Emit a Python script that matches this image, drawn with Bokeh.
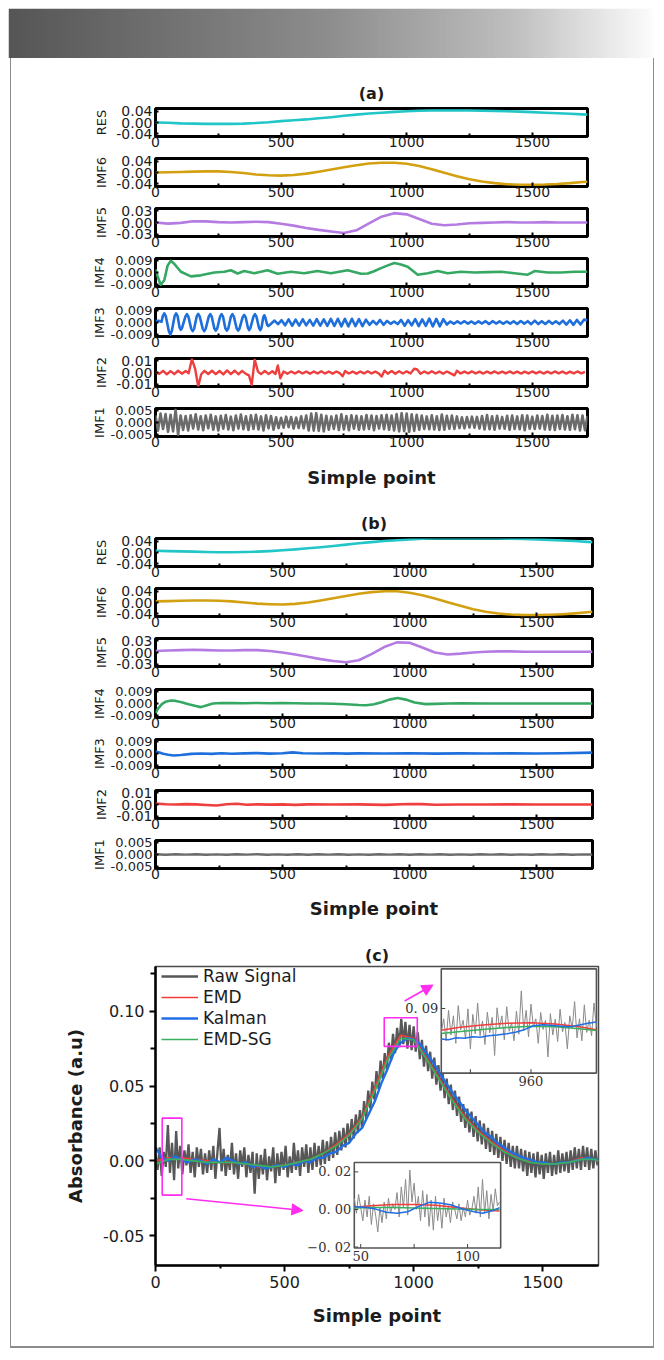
import numpy as np
from bokeh.plotting import figure
from bokeh.models import (Range1d, FixedTicker, PrintfTickFormatter, Arrow,
                          NormalHead, Legend, LegendItem, Spacer)
from bokeh.layouts import column, row
from bokeh.embed import file_html
from bokeh.resources import INLINE
from bokeh.core.properties import value

SANS = "DejaVu Sans"
SERIF = "DejaVu Serif"
INK = "#1c1c1c"

# ============================ DATA ============================
x_coarse = list(range(0, 1701, 50)) + [1720]

# ---- panel (a): EMD of raw signal
res_a = [0.000, -0.001, -0.003, -0.004, -0.005, -0.005, -0.005, -0.004, -0.002, 0.001,
         0.005, 0.008, 0.011, 0.015, 0.019, 0.024, 0.028, 0.032, 0.035, 0.038,
         0.040, 0.042, 0.043, 0.043, 0.043, 0.043, 0.042, 0.041, 0.040, 0.039,
         0.037, 0.035, 0.033, 0.031, 0.029, 0.028]
imf6_a = [0.000, 0.001, 0.002, 0.003, 0.004, 0.004, 0.002, -0.002, -0.007, -0.010,
          -0.011, -0.009, -0.004, 0.003, 0.011, 0.019, 0.026, 0.032, 0.035, 0.035,
          0.031, 0.023, 0.012, -0.001, -0.013, -0.024, -0.032, -0.038, -0.042, -0.044,
          -0.044, -0.043, -0.041, -0.038, -0.034, -0.033]
imf5_a = [0.000, -0.003, -0.001, 0.003, 0.003, 0.001, 0.000, 0.001, 0.002, 0.001,
          -0.003, -0.008, -0.014, -0.019, -0.023, -0.027, -0.020, -0.002, 0.015, 0.024,
          0.021, 0.009, -0.003, -0.007, -0.005, -0.002, -0.001, 0.000, 0.001, 0.000,
          0.000, 0.001, 0.000, 0.000, 0.000, 0.000]
imf4_a_x = [0, 11, 21, 35, 48, 61, 74, 101, 141, 180,
            234, 274, 300, 327, 353, 393, 446, 486, 539, 592,
            645, 698, 765, 818, 845, 870, 898, 925, 951, 977,
            1004, 1044, 1084, 1124, 1163, 1216, 1270, 1323, 1376, 1429,
            1482, 1509, 1562, 1615, 1668, 1720]
imf4_a = [0.0025, -0.0045, -0.0095, -0.0060, 0.0053, 0.0090, 0.0068, 0.0006, -0.0030, -0.0022,
          0.0000, 0.0006, 0.0017, -0.0008, 0.0011, -0.0006, 0.0017, -0.0010, 0.0006, -0.0006,
          0.0011, -0.0006, 0.0017, -0.0010, -0.0008, 0.0010, 0.0034, 0.0055, 0.0073, 0.0062,
          0.0045, -0.0017, -0.0006, 0.0011, -0.0006, 0.0006, 0.0000, 0.0003, 0.0006, -0.0006,
          -0.0017, 0.0011, 0.0000, 0.0000, 0.0006, 0.0006]
imf3_a_head_x = [0, 12, 24, 29, 35, 41, 53, 59, 65, 76, 82, 88, 96, 101, 106,
                 119, 125, 131, 142, 148, 154, 164, 170, 176, 188, 194, 200,
                 212, 218, 224, 234, 240, 246, 257, 263, 269, 278, 284, 290,
                 300, 306, 312, 323, 329, 335, 347, 353, 359, 368, 373, 378,
                 390, 396, 402, 412, 417, 422, 429, 433, 437, 445, 449]
imf3_a_head = [0.0012, 0.0014, 0.0006, 0.0049, 0.0070, 0.0049, -0.0066, -0.0093, -0.0066,
               0.0049, 0.0070, 0.0049, -0.0040, -0.0056, -0.0040,
               0.0045, 0.0064, 0.0045, -0.0047, -0.0066, -0.0047, 0.0047, 0.0066, 0.0047,
               -0.0047, -0.0066, -0.0047, 0.0045, 0.0064, 0.0045, -0.0044, -0.0062, -0.0044,
               0.0045, 0.0064, 0.0045, -0.0044, -0.0062, -0.0044, 0.0045, 0.0064, 0.0045,
               -0.0044, -0.0062, -0.0044, 0.0041, 0.0058, 0.0041, -0.0041, -0.0058, -0.0041,
               0.0045, 0.0064, 0.0045, -0.0041, -0.0058, -0.0041, 0.0040, 0.0056, 0.0040,
               -0.0020, -0.0028]
imf3_a_tail = [-0.0010, 0.0015, -0.0012, 0.0018, -0.0022, 0.0024, -0.0025, 0.0022, -0.0024, 0.0025,
               -0.0022, 0.0020, -0.0024, 0.0026, -0.0025, 0.0024, -0.0026, 0.0028, -0.0027, 0.0029,
               -0.0030, 0.0028, -0.0030, 0.0029, -0.0028, 0.0026, -0.0028, 0.0022, -0.0018, 0.0012,
               -0.0015, 0.0020, -0.0018, 0.0012, -0.0010, 0.0008, -0.0012, 0.0020, -0.0025, 0.0018,
               -0.0022, 0.0026, -0.0028, 0.0024, -0.0026, 0.0030, -0.0030, 0.0028, -0.0030, 0.0026,
               -0.0016, 0.0008, -0.0010, 0.0009, -0.0008, 0.0010, -0.0009, 0.0008, -0.0010, 0.0009,
               -0.0008, 0.0010, -0.0012, 0.0010, -0.0008, 0.0009, -0.0010, 0.0008, -0.0009, 0.0010,
               -0.0012, 0.0011, -0.0009, 0.0010, -0.0013, 0.0014, -0.0012, 0.0010, -0.0011, 0.0012,
               -0.0010, 0.0009, -0.0012, 0.0014, -0.0016, 0.0017, -0.0018, 0.0020, -0.0016, 0.0022,
               0.0018]
imf3_a_hx, imf3_a_hy = (imf3_a_head_x[:min(len(imf3_a_head_x), len(imf3_a_head))],
                        imf3_a_head[:min(len(imf3_a_head_x), len(imf3_a_head))])
imf3_a_x = imf3_a_hx + [460 + 14 * k for k in range(len(imf3_a_tail))]
imf3_a = imf3_a_hy + imf3_a_tail
imf2_a_head_x = [0, 15, 30, 45, 60, 75, 90, 105, 120, 132,
                 145, 158, 170, 182, 195, 210, 225, 240, 255, 270,
                 285, 300, 315, 330, 345, 360, 372, 383, 395, 408,
                 420, 435, 450, 465, 478, 487, 497, 510, 525, 540,
                 555, 570, 585, 600, 615, 630, 645, 660, 675, 690,
                 705, 720, 735, 745, 755, 770, 785, 800, 815, 830,
                 845, 860, 875, 890, 900, 912, 925, 940, 955, 970,
                 985, 1000, 1015, 1030, 1042, 1055, 1070, 1085, 1100, 1115,
                 1130, 1145, 1160, 1175, 1190, 1200, 1215]
imf2_a_head = [0.0003, -0.0012, 0.0014, -0.0015, 0.0012, -0.0014, 0.0015, -0.0010, 0.0013, -0.0006,
               0.0115, 0.0030, -0.0120, -0.0015, 0.0014, -0.0013, 0.0016, -0.0014, 0.0013, -0.0016,
               0.0018, -0.0014, 0.0016, -0.0015, 0.0014, -0.0012, -0.0025, -0.0105, 0.0110, 0.0008,
               -0.0014, 0.0013, -0.0012, 0.0011, -0.0013, 0.0060, -0.0050, 0.0008, -0.0010, 0.0009,
               -0.0008, 0.0010, -0.0009, 0.0008, -0.0010, 0.0009, -0.0008, 0.0010, -0.0009, 0.0008,
               -0.0010, 0.0009, -0.0008, -0.0032, 0.0012, -0.0009, 0.0008, -0.0010, 0.0009, -0.0008,
               0.0010, -0.0009, 0.0008, -0.0010, -0.0035, 0.0016, -0.0010, 0.0012, -0.0011, 0.0010,
               -0.0009, 0.0010, -0.0008, 0.0032, 0.0026, -0.0010, 0.0009, -0.0008, 0.0010, -0.0009,
               0.0008, -0.0010, 0.0009, -0.0008, -0.0024, 0.0014, -0.0008]
imf2_a_tail = [0.0008, -0.0007, 0.0009, -0.0008, 0.0007, -0.0009, 0.0008, -0.0007, 0.0009, -0.0008,
               0.0007, -0.0008, 0.0009, -0.0007, 0.0008, -0.0009, 0.0007, -0.0008, 0.0009, -0.0007,
               0.0008, -0.0009, 0.0007, -0.0008, 0.0009, -0.0007, 0.0008, -0.0009, 0.0007, -0.0008,
               0.0009, -0.0007, 0.0005]
imf2_a_x = imf2_a_head_x + [1230 + 15 * k for k in range(len(imf2_a_tail))]
imf2_a = imf2_a_head + imf2_a_tail
imf1_a = [0.0030, -0.0035, 0.0038, -0.0028, 0.0036, -0.0040, 0.0033, -0.0038, 0.0055, -0.0052,
          0.0030, -0.0032, 0.0028, -0.0034, 0.0031, -0.0026, 0.0035, -0.0030, 0.0027, -0.0033,
          0.0030, -0.0025, 0.0033, -0.0031, 0.0026, -0.0034, 0.0029, -0.0027, 0.0032, -0.0030,
          0.0025, -0.0033, 0.0030, -0.0026, 0.0034, -0.0029, 0.0027, -0.0032, 0.0031, -0.0028,
          0.0033, -0.0030, 0.0026, -0.0034, 0.0031, -0.0025, 0.0028, -0.0031, 0.0022, -0.0024,
          0.0020, -0.0022, 0.0025, -0.0020, 0.0023, -0.0026, 0.0021, -0.0023, 0.0027, -0.0025,
          0.0030, -0.0034, 0.0038, -0.0035, 0.0040, -0.0036, 0.0033, -0.0038, 0.0029, -0.0031,
          0.0026, -0.0028, 0.0030, -0.0032, 0.0035, -0.0030, 0.0028, -0.0033, 0.0031, -0.0027,
          0.0029, -0.0031, 0.0027, -0.0030, 0.0032, -0.0028, 0.0030, -0.0033, 0.0028, -0.0026,
          0.0031, -0.0029, 0.0033, -0.0031, 0.0030, -0.0034, 0.0036, -0.0038, 0.0040, -0.0037,
          0.0038, -0.0040, 0.0035, -0.0036, 0.0033, -0.0031, 0.0030, -0.0028, 0.0026, -0.0029,
          0.0031, -0.0030, 0.0027, -0.0032, 0.0034, -0.0031, 0.0029, -0.0027, 0.0030, -0.0028,
          0.0026, -0.0024, 0.0022, -0.0025, 0.0023, -0.0021, 0.0025, -0.0022, 0.0024, -0.0026,
          0.0028, -0.0030, 0.0032, -0.0029, 0.0027, -0.0031, 0.0029, -0.0026, 0.0024, -0.0027,
          0.0029, -0.0031, 0.0030, -0.0028, 0.0026, -0.0029, 0.0031, -0.0033, 0.0030, -0.0027,
          0.0025, -0.0028, 0.0030, -0.0026, 0.0028, -0.0030, 0.0033, -0.0031, 0.0029, -0.0032,
          0.0030, -0.0028, 0.0032, -0.0030, 0.0027, -0.0031, 0.0033, -0.0029, 0.0031, -0.0034,
          0.0030, -0.0033, 0.0028]
imf1_a_x = list(range(0, 1721, 10))

# ---- panel (b): EMD of denoised signal
res_b = [0.006, 0.005, 0.004, 0.003, 0.002, 0.001, 0.001, 0.002, 0.003, 0.005,
         0.008, 0.011, 0.015, 0.019, 0.023, 0.028, 0.033, 0.037, 0.041, 0.044,
         0.047, 0.049, 0.050, 0.050, 0.050, 0.050, 0.050, 0.050, 0.049, 0.048,
         0.047, 0.045, 0.043, 0.041, 0.038, 0.037]
imf6_b = [0.004, 0.005, 0.006, 0.007, 0.007, 0.006, 0.004, 0.000, -0.004, -0.006,
          -0.007, -0.005, 0.000, 0.007, 0.015, 0.023, 0.031, 0.037, 0.040, 0.040,
          0.035, 0.026, 0.014, 0.001, -0.012, -0.024, -0.033, -0.039, -0.043, -0.045,
          -0.045, -0.044, -0.042, -0.039, -0.035, -0.033]
imf5_b = [0.004, 0.005, 0.006, 0.007, 0.006, 0.005, 0.005, 0.006, 0.006, 0.004,
          0.000, -0.005, -0.011, -0.017, -0.022, -0.025, -0.020, -0.004, 0.014, 0.026,
          0.025, 0.013, 0.000, -0.005, -0.003, 0.000, 0.002, 0.003, 0.003, 0.002,
          0.002, 0.002, 0.002, 0.002, 0.002, 0.002]
imf4_b_x = [0, 10, 25, 40, 61, 80, 103, 130, 155, 178,
            200, 226, 260, 300, 350, 400, 450, 500, 550, 600,
            650, 700, 750, 800, 829, 860, 890, 920, 953, 985,
            1020, 1063, 1100, 1150, 1200, 1300, 1400, 1500, 1600, 1720]
imf4_b = [-0.0074, -0.0040, -0.0005, 0.0014, 0.0023, 0.0020, 0.0010, -0.0005, -0.0018, -0.0028,
          -0.0015, 0.0000, 0.0004, 0.0003, 0.0002, 0.0004, 0.0002, 0.0003, 0.0002, 0.0000,
          0.0000, -0.0002, -0.0006, -0.0012, -0.0014, -0.0006, 0.0010, 0.0030, 0.0042, 0.0030,
          0.0008, -0.0005, -0.0003, 0.0000, 0.0002, 0.0000, 0.0000, 0.0000, 0.0000, 0.0000]
imf3_b_x = [0, 15, 30, 50, 72, 100, 141, 180, 220, 260,
            300, 350, 400, 450, 500, 540, 580, 650, 700, 750,
            800, 900, 1000, 1100, 1200, 1300, 1400, 1500, 1600, 1720]
imf3_b = [0.0016, 0.0008, -0.0002, -0.0009, -0.0015, -0.0012, -0.0003, 0.0000, -0.0003, 0.0002,
          -0.0002, 0.0001, 0.0003, -0.0001, 0.0002, 0.0009, 0.0002, 0.0000, 0.0002, -0.0001,
          0.0001, 0.0000, 0.0002, -0.0001, 0.0001, 0.0000, 0.0001, 0.0000, 0.0002, 0.0007]
imf2_b_x = [0, 40, 80, 120, 160, 200, 240, 280, 320, 360,
            400, 450, 500, 550, 600, 700, 800, 900, 1000, 1050,
            1100, 1200, 1300, 1400, 1500, 1600, 1720]
imf2_b = [0.0008, 0.0002, 0.0000, 0.0003, 0.0001, -0.0004, -0.0008, 0.0002, 0.0006, -0.0002,
          0.0001, -0.0001, 0.0001, -0.0003, 0.0001, 0.0000, 0.0001, -0.0003, 0.0004, 0.0003,
          -0.0002, 0.0000, 0.0000, 0.0001, 0.0000, 0.0000, 0.0000]
imf1_b_x = list(range(0, 1721, 40))
imf1_b = [0.00010, -0.00008, 0.00012, -0.00005, 0.00009, -0.00012, 0.00005, -0.00009, 0.00010, -0.00004,
          0.00012, -0.00008, 0.00005, -0.00010, 0.00008, -0.00012, 0.00009, -0.00005, 0.00010, -0.00008,
          0.00004, -0.00012, 0.00009, -0.00005, 0.00010, -0.00008, 0.00012, -0.00004, 0.00009, -0.00010,
          0.00005, -0.00008, 0.00010, -0.00005, 0.00009, -0.00012, 0.00005, -0.00008, 0.00010, -0.00005,
          0.00008, -0.00010, 0.00005, 0.00000]

# ---- panel (c): raw signal and denoised results
c_x_smooth = list(range(0, 1701, 50)) + [1716]
emd = [0.000, 0.002, 0.002, 0.001, 0.000, -0.001, -0.001, -0.002, -0.004, -0.004,
       -0.003, -0.001, 0.001, 0.005, 0.011, 0.018, 0.029, 0.049, 0.070, 0.084,
       0.082, 0.069, 0.055, 0.041, 0.029, 0.020, 0.013, 0.007, 0.003, 0.000,
       -0.002, -0.002, -0.001, 0.002, 0.001, 0.000]
emd_sg = [-0.002, 0.001, 0.001, 0.000, -0.001, -0.001, -0.001, -0.002, -0.003, -0.004,
          -0.003, -0.001, 0.001, 0.005, 0.010, 0.017, 0.028, 0.047, 0.068, 0.082,
          0.081, 0.068, 0.054, 0.040, 0.028, 0.019, 0.012, 0.006, 0.002, -0.001,
          -0.002, -0.002, -0.001, 0.001, 0.001, 0.000]
kalman_x = list(range(0, 1701, 25)) + [1716]
kalman = [0.009, 0.002, 0.000, 0.003, 0.001, -0.001, 0.001, 0.000, -0.002, 0.001,
          -0.001, 0.002, 0.000, -0.002, -0.001, -0.004, -0.003, -0.005, -0.004, -0.003,
          -0.004, -0.002, -0.003, 0.000, -0.001, 0.002, 0.002, 0.005, 0.006, 0.010,
          0.012, 0.018, 0.022, 0.031, 0.040, 0.052, 0.062, 0.073, 0.079, 0.082,
          0.081, 0.078, 0.072, 0.066, 0.059, 0.052, 0.046, 0.040, 0.034, 0.029,
          0.024, 0.019, 0.016, 0.012, 0.009, 0.006, 0.004, 0.002, 0.001, -0.001,
          -0.001, -0.002, -0.002, -0.001, -0.001, 0.000, 0.001, 0.002, 0.001, 0.001]
raw_signal = [
    0.004, -0.006, 0.009, -0.010, 0.006, -0.004, 0.024, -0.008, 0.012, -0.013,
    0.020, -0.005, 0.010, -0.009, 0.007, -0.003, 0.011, -0.008, 0.006, -0.011,
    0.009, -0.004, 0.008, -0.009, 0.005,
    -0.008, 0.007, -0.006, 0.010, -0.012, 0.006, 0.022, -0.007, 0.008, -0.010,
    0.004, -0.006, 0.012, -0.009, 0.005, -0.012, 0.007, -0.004, 0.009, -0.011,
    0.004, -0.008, 0.006, -0.022, 0.005,
    -0.012, 0.004, -0.009, 0.008, -0.013, 0.003, -0.007, 0.009, -0.015, 0.005,
    -0.010, 0.006, -0.006, 0.010, -0.011, 0.003, -0.008, 0.012, -0.006, 0.007,
    -0.010, 0.009, -0.004, 0.011, -0.008,
    0.009, -0.006, 0.012, -0.004, 0.010, -0.003, 0.014, -0.002, 0.013, 0.000,
    0.016, 0.002, 0.019, 0.004, 0.020, 0.007, 0.022, 0.009, 0.025, 0.012,
    0.028, 0.015, 0.031, 0.019, 0.034,
    0.022, 0.040, 0.028, 0.047, 0.035, 0.053, 0.041, 0.060, 0.048, 0.067,
    0.055, 0.072, 0.061, 0.079, 0.067, 0.085, 0.072, 0.089, 0.076, 0.095,
    0.078, 0.093, 0.075, 0.091, 0.074,
    0.090, 0.073, 0.086, 0.068, 0.081, 0.063, 0.077, 0.060, 0.073, 0.055,
    0.069, 0.051, 0.064, 0.047, 0.060, 0.042, 0.055, 0.038, 0.051, 0.034,
    0.047, 0.030, 0.043, 0.026, 0.038,
    0.022, 0.035, 0.019, 0.033, 0.016, 0.030, 0.013, 0.027, 0.011, 0.025,
    0.008, 0.022, 0.006, 0.020, 0.004, 0.018, 0.002, 0.016, 0.000, 0.014,
    -0.002, 0.012, -0.004, 0.010, -0.005,
    0.010, -0.005, 0.008, -0.007, 0.007, -0.010, 0.006, -0.008, 0.005, -0.011,
    0.006, -0.009, 0.004, -0.012, 0.005, -0.008, 0.006, -0.010, 0.004, -0.009,
    0.007, -0.008, 0.005, -0.007, 0.006,
    -0.008, 0.007, -0.006, 0.009, -0.005, 0.008, -0.006, 0.010, -0.004, 0.009,
    -0.006, 0.008, -0.005, 0.007, -0.003]
raw_x = [8 * k for k in range(len(raw_signal))]

# zoomed windows (insets)
zoom_peak_x = (886, 1014)
zoom_peak_y = (0.0724, 0.1008)
zoom_base_x = (47, 115.5)
zoom_base_y = (-0.0205, 0.025)
zoom_boxes_left = [26, 886]
zoom_boxes_right = [102, 1014]
zoom_boxes_bottom = [-0.0229, 0.0766]
zoom_boxes_top = [0.0286, 0.0957]

peak_smooth_x = [886, 900, 920, 940, 960, 980, 1000, 1014]
peak_emd = [0.0841, 0.0848, 0.0855, 0.0860, 0.0861, 0.0858, 0.0850, 0.0842]
peak_emd_sg = [0.0832, 0.0837, 0.0843, 0.0848, 0.0852, 0.0850, 0.0845, 0.0840]
peak_kalman_x = [886, 892, 898, 905, 912, 918, 925, 932, 940, 948, 955, 962, 970, 978, 985,
                 992, 1000, 1007, 1014]
peak_kalman = [0.0817, 0.0815, 0.0820, 0.0819, 0.0823, 0.0822, 0.0826, 0.0828, 0.0831, 0.0836,
               0.0843, 0.0853, 0.0856, 0.0854, 0.0852, 0.0850, 0.0855, 0.0860, 0.0863]
peak_raw = [0.0835, 0.0872, 0.0812, 0.0895, 0.0828, 0.0880, 0.0805, 0.0908, 0.0842, 0.0868,
            0.0818, 0.0899, 0.0790, 0.0884, 0.0831, 0.0915, 0.0826, 0.0866, 0.0802, 0.0890,
            0.0834, 0.0876, 0.0772, 0.0902, 0.0847, 0.0880, 0.0815, 0.0905, 0.0838, 0.0861,
            0.0812, 0.0893, 0.0830, 0.0948, 0.0840, 0.0895, 0.0823, 0.0912, 0.0850, 0.0872,
            0.0805, 0.0889, 0.0843, 0.0868, 0.0768, 0.0886, 0.0828, 0.0871, 0.0810, 0.0898,
            0.0836, 0.0862, 0.0790, 0.0880, 0.0846, 0.0919, 0.0820, 0.0872, 0.0812, 0.0910,
            0.0835, 0.0868, 0.0826, 0.0915, 0.0850]
peak_raw_x = [886 + 2 * k for k in range(len(peak_raw))]

base_smooth_x = [47, 55, 65, 75, 85, 95, 105, 115]
base_emd = [0.0012, 0.0020, 0.0026, 0.0027, 0.0022, 0.0010, -0.0002, -0.0008]
base_emd_sg = [0.0008, 0.0010, 0.0010, 0.0008, 0.0005, 0.0002, 0.0000, 0.0000]
base_kalman_x = [47, 52, 57, 62, 67, 72, 77, 82, 87, 92, 97, 102, 107, 112, 115]
base_kalman = [0.0015, 0.0012, 0.0002, -0.0015, -0.0020, -0.0012, 0.0015, 0.0038, 0.0035, 0.0025,
               0.0005, -0.0010, -0.0020, -0.0005, 0.0010]
base_raw = [0.006, -0.002, 0.008, 0.001, -0.006, 0.005, -0.004, 0.007, -0.008, 0.003,
            -0.003, -0.012, 0.001, -0.007, 0.004, -0.005, 0.006, -0.002, 0.003, 0.000,
            0.009, -0.004, 0.012, 0.001, 0.016, -0.003, 0.021, 0.004, 0.014, 0.000,
            0.007, -0.006, 0.010, -0.004, 0.008, -0.009, 0.005, -0.011, 0.007, -0.006,
            0.003, -0.010, 0.006, -0.004, 0.002, -0.007, 0.004, 0.000, -0.005, 0.003,
            -0.006, 0.001, -0.004, 0.005, -0.003, 0.000, 0.007, -0.002, 0.012, -0.004,
            0.016, -0.002, 0.010, -0.005, 0.008, -0.001, 0.011, 0.002, 0.004]
base_raw_x = [47 + k for k in range(len(base_raw))]

arrow_from = [(119, -0.0253), (965, 0.1069)]
arrow_to = [(571, -0.0332), (1075, 0.1176)]

# ============================ STYLE / LAYOUT ============================
COL = dict(res="#22c6c8", imf6="#d3a012", imf5="#b47be2", imf4="#35a863",
           imf3="#1e6fdc", imf2="#ef3e3e", imf1="#6b6b6b")
MAG = "#ff2cf0"
FIG_W = 642
FRAME_H = 28


def pair(x, y):
    n = min(len(x), len(y))
    return list(x)[:n], list(y)[:n]


def strip(label, xs, ys, color, ymax, ticks, fmt, frame_w, top, bottom,
          title=None, xlabel=None, lw=2.6, xlabel_standoff=9):
    p = figure(frame_width=frame_w, frame_height=FRAME_H, output_backend="svg",
               toolbar_location=None, x_range=Range1d(0, 1720),
               y_range=Range1d(-ymax, ymax), min_border_left=144,
               min_border_right=FIG_W - 144 - frame_w, min_border_top=top,
               min_border_bottom=bottom)
    p.grid.visible = False
    p.outline_line_color = "black"
    p.outline_line_width = 3
    x, y = pair(xs, ys)
    p.line(x, y, line_color=color, line_width=lw, line_join="round")
    three = fmt.endswith("3f")
    xa = p.xaxis[0]
    ya = p.yaxis[0]
    xa.ticker = FixedTicker(ticks=[0, 500, 1000, 1500], minor_ticks=[250, 750, 1250])
    for ax in (xa, ya):
        ax.axis_line_color = None
        ax.major_tick_in = 4
        ax.major_tick_out = 0
        ax.minor_tick_in = 3
        ax.minor_tick_out = 0
        ax.major_tick_line_color = "black"
        ax.major_tick_line_width = 2
        ax.minor_tick_line_color = "black"
        ax.minor_tick_line_width = 2
        ax.major_label_text_font = SANS
        ax.major_label_text_color = INK
    xa.major_label_text_font_size = "14px"
    xa.major_label_standoff = 0
    ya.ticker = FixedTicker(ticks=ticks)
    ya.formatter = PrintfTickFormatter(format=fmt)
    ya.major_label_text_font_size = "13px" if three else "14px"
    ya.major_label_standoff = 3
    ya.major_tick_in = 3
    ya.axis_label = label
    ya.axis_label_text_font = SANS
    ya.axis_label_text_font_size = "13px"
    ya.axis_label_text_font_style = "normal"
    ya.axis_label_text_color = INK
    ya.axis_label_standoff = 1 if three else 4
    if title:
        p.title.text = title
        p.title.align = "center"
        p.title.text_font = SANS
        p.title.text_font_size = "16px"
        p.title.text_font_style = "bold"
        p.title.text_color = INK
        p.title.standoff = 12
    if xlabel:
        xa.axis_label = xlabel
        xa.axis_label_text_font = SANS
        xa.axis_label_text_font_size = "18px"
        xa.axis_label_text_font_style = "bold"
        xa.axis_label_text_color = INK
        xa.axis_label_standoff = xlabel_standoff
    return p


T2 = [-0.04, 0, 0.04]
T3 = [-0.03, 0, 0.03]
T9 = [-0.009, 0, 0.009]
T1 = [-0.01, 0, 0.01]
T5 = [-0.005, 0, 0.005]


def decomposition(title, series, frame_w, borders, xl_standoff):
    figs = []
    n = len(series)
    for i, ((lab, xs, ys, col, ymax, tk, fmt, lw), (top, bottom)) in enumerate(zip(series, borders)):
        figs.append(strip(lab, xs, ys, col, ymax, tk, fmt, frame_w, top, bottom,
                          title=title if i == 0 else None,
                          xlabel="Simple point" if i == n - 1 else None,
                          lw=lw, xlabel_standoff=xl_standoff))
    return figs


series_a = [
    ("RES", x_coarse, res_a, COL["res"], 0.05, T2, "%.2f", 2.6),
    ("IMF6", x_coarse, imf6_a, COL["imf6"], 0.05, T2, "%.2f", 2.6),
    ("IMF5", x_coarse, imf5_a, COL["imf5"], 0.036, T3, "%.2f", 2.6),
    ("IMF4", imf4_a_x, imf4_a, COL["imf4"], 0.0108, T9, "%.3f", 2.6),
    ("IMF3", imf3_a_x, imf3_a, COL["imf3"], 0.0108, T9, "%.3f", 2.6),
    ("IMF2", imf2_a_x, imf2_a, COL["imf2"], 0.012, T1, "%.2f", 2.4),
    ("IMF1", imf1_a_x, imf1_a, COL["imf1"], 0.006, T5, "%.3f", 2.6),
]
series_b = [
    ("RES", x_coarse, res_b, COL["res"], 0.05, T2, "%.2f", 2.6),
    ("IMF6", x_coarse, imf6_b, COL["imf6"], 0.05, T2, "%.2f", 2.6),
    ("IMF5", x_coarse, imf5_b, COL["imf5"], 0.036, T3, "%.2f", 2.6),
    ("IMF4", imf4_b_x, imf4_b, COL["imf4"], 0.0108, T9, "%.3f", 2.6),
    ("IMF3", imf3_b_x, imf3_b, COL["imf3"], 0.0108, T9, "%.3f", 2.6),
    ("IMF2", imf2_b_x, imf2_b, COL["imf2"], 0.012, T1, "%.2f", 2.6),
    ("IMF1", imf1_b_x, imf1_b, COL["imf1"], 0.006, T5, "%.3f", 2.4),
]

borders_a = [(50, 17), (5, 17), (5, 17), (5, 17), (5, 17), (5, 17), (5, 62)]
borders_b = [(40, 17), (5, 17), (5, 18), (5, 17), (5, 18), (5, 17), (5, 60)]
figs_a = decomposition("(a)", series_a, 432, borders_a, 17)
figs_b = decomposition("(b)", series_b, 437, borders_b, 16)

# ---- panel (c)
pc = figure(frame_width=443, frame_height=299, output_backend="svg", toolbar_location=None,
            x_range=Range1d(0, 1716), y_range=Range1d(-0.07, 0.13),
            min_border_left=143, min_border_right=56, min_border_top=38,
            min_border_bottom=81)
pc.grid.visible = False
pc.outline_line_color = "#4a4a4a"
pc.outline_line_width = 1.5
pc.title.text = "(c)"
pc.title.align = "center"
pc.title.text_font = SANS
pc.title.text_font_size = "16px"
pc.title.text_font_style = "bold"
pc.title.text_color = INK
pc.title.standoff = 4

rx, ry = pair(raw_x, raw_signal)
r_raw = pc.line(rx, ry, line_color="#575757", line_width=2.3)
ex, ey = pair(c_x_smooth, emd)
r_emd = pc.line(ex, ey, line_color="#f23d3d", line_width=1.7)
kx, ky = pair(kalman_x, kalman)
r_kal = pc.line(kx, ky, line_color="#1f6ee6", line_width=2.4)
gx, gy = pair(c_x_smooth, emd_sg)
r_sg = pc.line(gx, gy, line_color="#38b05e", line_width=1.7)

pc.quad(left=zoom_boxes_left, right=zoom_boxes_right, bottom=zoom_boxes_bottom,
        top=zoom_boxes_top, fill_color=None, line_color=MAG, line_width=1.6)
for (x0, y0), (x1, y1) in zip(arrow_from, arrow_to):
    pc.add_layout(Arrow(end=NormalHead(size=11, fill_color=MAG, line_color=MAG),
                        x_start=x0, y_start=y0, x_end=x1, y_end=y1,
                        line_color=MAG, line_width=1.6))

xa = pc.xaxis[0]
ya = pc.yaxis[0]
xa.ticker = FixedTicker(ticks=[0, 500, 1000, 1500], minor_ticks=[250, 750, 1250])
ya.ticker = FixedTicker(ticks=[-0.05, 0, 0.05, 0.10],
                        minor_ticks=[-0.075, -0.025, 0.025, 0.075, 0.125])
ya.formatter = PrintfTickFormatter(format="%.2f")
for ax in (xa, ya):
    ax.axis_line_color = "black"
    ax.axis_line_width = 2.5
    ax.major_tick_line_color = "black"
    ax.minor_tick_line_color = "black"
    ax.major_tick_line_width = 2
    ax.minor_tick_line_width = 2
    ax.major_tick_in = 0
    ax.minor_tick_in = 0
    ax.major_tick_out = 6
    ax.minor_tick_out = 5
    ax.major_label_text_font = SANS
    ax.major_label_text_font_size = "16px"
    ax.major_label_text_color = INK
    ax.axis_label_text_font = SANS
    ax.axis_label_text_font_size = "18px"
    ax.axis_label_text_font_style = "bold"
    ax.axis_label_text_color = INK
xa.minor_tick_out = 3
xa.major_label_standoff = 4
xa.axis_label = "Simple point"
xa.axis_label_standoff = 14
ya.major_label_standoff = 5
ya.axis_label = "Absorbance (a.u)"
ya.axis_label_standoff = 14

legend = Legend(items=[LegendItem(label="Raw Signal", renderers=[r_raw]),
                       LegendItem(label="EMD", renderers=[r_emd]),
                       LegendItem(label="Kalman", renderers=[r_kal]),
                       LegendItem(label="EMD-SG", renderers=[r_sg])],
                location=(6, 216), padding=0, margin=0, spacing=1,
                glyph_width=37, glyph_height=20, label_height=20, label_standoff=5,
                label_text_font=SANS, label_text_font_size="17px",
                label_text_color=INK, border_line_color=None,
                background_fill_alpha=0)
pc.add_layout(legend)

# insets (drawn in the main frame through sub-coordinates)
INSET_PEAK_TARGET = ((1107, 1708), (0.0587, 0.1284))
INSET_BASE_TARGET = ((770, 1337), (-0.0583, -0.0011))


def inset(xr, yr, target):
    sub = pc.subplot(x_source=Range1d(*xr), y_source=Range1d(*yr),
                     x_target=Range1d(*target[0]), y_target=Range1d(*target[1]))
    sub.quad(left=[xr[0]], right=[xr[1]], bottom=[yr[0]], top=[yr[1]],
             fill_color="white", line_color="#555555", line_width=1.6)
    return sub


def inset_ticks(sub, xr, yr, xt, xl, yt, yl, xminor):
    sub.ray(x=[xr[0]] * len(yt), y=yt, length=4, length_units="screen", angle=0,
            line_color="#444444", line_width=1)
    sub.ray(x=xt + xminor, y=[yr[0]] * (len(xt) + len(xminor)), length=4,
            length_units="screen", angle=np.pi / 2, line_color="#444444", line_width=1)
    sub.text(x=[xr[0]] * len(yt), y=yt, text=yl, x_offset=-3, text_align="right",
             text_baseline="middle", text_font=value(SERIF), text_font_size="13px",
             text_color="#333333")
    sub.text(x=xt, y=[yr[0]] * len(xt), text=xl, y_offset=3, text_align="center",
             text_baseline="top", text_font=value(SERIF), text_font_size="13px",
             text_color="#333333")


s1 = inset(zoom_peak_x, zoom_peak_y, INSET_PEAK_TARGET)
s1.line(*pair(peak_raw_x, peak_raw), line_color="#8a8a8a", line_width=1)
s1.line(*pair(peak_smooth_x, peak_emd), line_color="#f23d3d", line_width=1.5)
s1.line(*pair(peak_smooth_x, peak_emd_sg), line_color="#38b05e", line_width=1.5)
s1.line(*pair(peak_kalman_x, peak_kalman), line_color="#1f6ee6", line_width=1.5)
inset_ticks(s1, zoom_peak_x, zoom_peak_y, [960], ["960"], [0.09], ["0. 09"], [910])

s2 = inset(zoom_base_x, zoom_base_y, INSET_BASE_TARGET)
s2.line(*pair(base_raw_x, base_raw), line_color="#8a8a8a", line_width=1)
s2.line(*pair(base_smooth_x, base_emd), line_color="#f23d3d", line_width=1.5)
s2.line(*pair(base_smooth_x, base_emd_sg), line_color="#38b05e", line_width=1.5)
s2.line(*pair(base_kalman_x, base_kalman), line_color="#1f6ee6", line_width=1.5)
inset_ticks(s2, zoom_base_x, zoom_base_y, [50, 100], ["50", "100"],
            [-0.02, 0.0, 0.02], ["\u22120. 02", "0. 00", "0. 02"], [75])

# ---- header band (gradient)
N = 256
t = np.linspace(0, 1, N)
g = np.interp(t, [0, 0.5, 0.78, 1.0], [86, 142, 190, 252]).astype(np.uint8)
img = np.empty((1, N), dtype=np.uint32)
view = img.view(dtype=np.uint8).reshape((1, N, 4))
view[0, :, 0] = g
view[0, :, 1] = g
view[0, :, 2] = g
view[0, :, 3] = 255
header = figure(width=653, height=58, output_backend="svg", toolbar_location=None,
                x_range=Range1d(0, 1), y_range=Range1d(0, 1), min_border_left=8,
                min_border_right=0, min_border_top=8, min_border_bottom=0)
header.axis.visible = False
header.grid.visible = False
header.outline_line_color = None
header.image_rgba(image=[img], x=0, y=0, dw=1, dh=1)

box = column(*(figs_a + figs_b + [pc]), spacing=0,
             styles={"border-left": "1px solid #8c8c8c",
                     "border-right": "1px solid #8c8c8c",
                     "border-bottom": "2px solid #8c8c8c"})
page = column(header, row(Spacer(width=10, height=10), box, spacing=0), spacing=0)

open("out.html", "w").write(file_html(page, INLINE))
